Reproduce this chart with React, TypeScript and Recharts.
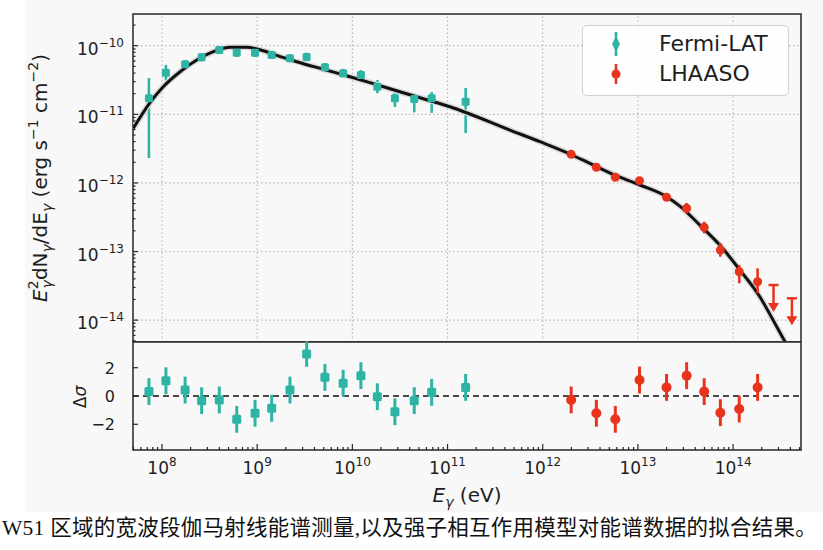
import React from 'react';
import {
  ComposedChart,
  Scatter,
  Line,
  XAxis,
  YAxis,
  ReferenceLine,
  ReferenceArea,
  ErrorBar,
} from 'recharts';

// energies in eV, fluxes as E^2 dN/dE in erg s^-1 cm^-2
const fermiE = [7.29e7, 1.1e8, 1.75e8, 2.61e8, 4.0e8, 6.1e8, 9.5e8, 1.42e9, 2.21e9, 3.31e9, 5.15e9, 8.0e9, 1.23e10, 1.83e10, 2.8e10, 4.47e10, 6.81e10, 1.55e11];
const fermiF = [1.71e-11, 4.04e-11, 5.36e-11, 6.78e-11, 8.65e-11, 7.91e-11, 7.91e-11, 7.31e-11, 6.55e-11, 6.84e-11, 4.84e-11, 3.96e-11, 3.74e-11, 2.52e-11, 1.71e-11, 1.67e-11, 1.71e-11, 1.53e-11];
const fermiLo = [2.31e-12, 3.05e-11, 4.67e-11, 5.9e-11, 7.55e-11, 6.9e-11, 6.9e-11, 6.4e-11, 5.7e-11, 5.95e-11, 4.2e-11, 3.4e-11, 3.2e-11, 2.04e-11, 1.28e-11, 1.07e-11, 1.05e-11, 5.33e-12];
const fermiHi = [3.38e-11, 5.24e-11, 6.15e-11, 7.8e-11, 9.9e-11, 9.1e-11, 9.1e-11, 8.4e-11, 7.5e-11, 7.9e-11, 5.6e-11, 4.6e-11, 4.4e-11, 3.16e-11, 2.04e-11, 2.04e-11, 2.11e-11, 2.42e-11];
const fermiRes = [0.31, 1.08, 0.42, -0.33, -0.28, -1.65, -1.22, -0.87, 0.42, 2.97, 1.32, 0.9, 1.44, -0.05, -1.11, -0.33, 0.26, 0.61];
const fermiResErr = [0.95, 0.95, 0.95, 0.95, 0.95, 0.95, 0.95, 0.95, 0.95, 0.9, 0.95, 0.95, 0.95, 0.95, 0.95, 0.95, 0.95, 0.95];

const lhaasoE = [1.99e12, 3.66e12, 5.79e12, 1.04e13, 2.0e13, 3.25e13, 4.97e13, 7.35e13, 1.16e14, 1.81e14];
const lhaasoF = [2.61e-12, 1.69e-12, 1.21e-12, 1.08e-12, 6.17e-13, 4.27e-13, 2.25e-13, 1.05e-13, 5.08e-14, 3.63e-14];
const lhaasoLo = [2.38e-12, 1.54e-12, 1.1e-12, 9.85e-13, 5.6e-13, 3.6e-13, 1.84e-13, 8.4e-14, 3.44e-14, 2.46e-14];
const lhaasoHi = [2.86e-12, 1.85e-12, 1.33e-12, 1.18e-12, 6.8e-13, 5.1e-13, 2.72e-13, 1.33e-13, 6.35e-14, 5.69e-14];
const lhaasoRes = [-0.28, -1.22, -1.65, 1.13, 0.61, 1.44, 0.31, -1.18, -0.92, 0.61];
const lhaasoResErr = [0.95, 0.95, 0.95, 0.95, 0.95, 0.95, 0.95, 0.95, 0.95, 0.95];

// LHAASO upper limits
const ulE = [2.66e14, 4.15e14];
const ulF = [3.25e-14, 2.08e-14];

// hadronic model curve
const modelE = [5.0e7, 7.48e7, 1.03e8, 1.55e8, 2.32e8, 3.46e8, 5.18e8, 7.76e8, 1.16e9, 1.75e9, 2.6e9, 5.15e9, 9.44e9, 1.73e10, 3.16e10, 5.79e10, 1.06e11, 4.52e11, 9.35e11, 1.93e12, 3.13e12, 5.73e12, 1.05e13, 2.0e13, 2.76e13, 4.48e13, 7.26e13, 1.18e14, 1.91e14, 2.75e14, 3.51e14];
const modelF = [6.25e-12, 1.48e-11, 2.52e-11, 4.18e-11, 6.19e-11, 8.18e-11, 9.48e-11, 9.48e-11, 8.45e-11, 6.92e-11, 5.85e-11, 4.47e-11, 3.53e-11, 2.75e-11, 2.13e-11, 1.66e-11, 1.29e-11, 5.9e-12, 3.99e-12, 2.64e-12, 1.93e-12, 1.3e-12, 9.33e-13, 6.3e-13, 4.6e-13, 2.43e-13, 1.24e-13, 5.37e-14, 2.19e-14, 8.97e-15, 4.84e-15];

const xDecades = [1e8, 1e9, 1e10, 1e11, 1e12, 1e13, 1e14];
const yDecades = [1e-14, 1e-13, 1e-12, 1e-11, 1e-10];
const resTicks = [-2, 0, 2];

const X_DOMAIN: [number, number] = [4.96e7, 5.17e14];
const Y_DOMAIN: [number, number] = [4.8e-15, 2.9e-10];
const RES_DOMAIN: [number, number] = [-3.82, 3.82];

const TEAL = '#2db4a4';
const RED = '#e8331d';
const INK = '#1e1e1e';
const FRAME = '#2b2320';
const FONT = '"DejaVu Sans", sans-serif';

const withMinors = (decades: number[], lo: number, hi: number) => {
  const out: number[] = [];
  decades.forEach((d) => {
    for (let m = 1; m < 10; m++) {
      const v = (d / 10) * m;
      if (v >= lo && v <= hi) out.push(v);
    }
  });
  const top = decades[decades.length - 1];
  for (let m = 1; m < 10; m++) if (top * m <= hi) out.push(top * m);
  return Array.from(new Set(out)).sort((a, b) => a - b);
};

const xTicks = withMinors(xDecades, X_DOMAIN[0], X_DOMAIN[1]);
const yTicks = withMinors(yDecades, Y_DOMAIN[0], Y_DOMAIN[1]);

const fermi = fermiE.map((e, i) => ({ e, f: fermiF[i], err: [fermiF[i] - fermiLo[i], fermiHi[i] - fermiF[i]] }));
const lhaaso = lhaasoE.map((e, i) => ({ e, f: lhaasoF[i], err: [lhaasoF[i] - lhaasoLo[i], lhaasoHi[i] - lhaasoF[i]] }));
const upper = ulE.map((e, i) => ({ e, f: ulF[i] }));
const model = modelE.map((e, i) => ({ e, f: modelF[i] }));
const fermiR = fermiE.map((e, i) => ({ e, r: fermiRes[i], err: fermiResErr[i] }));
const lhaasoR = lhaasoE.map((e, i) => ({ e, r: lhaasoRes[i], err: lhaasoResErr[i] }));

const isMajor = (v: number) => Math.abs(Math.log10(v) - Math.round(Math.log10(v))) < 1e-6;
const expText = (n: number) => (n < 0 ? '\u2212' + Math.abs(n) : String(n));

const makeXTick = (labels: boolean) => (props: any) => {
  const { x, y, payload } = props;
  const major = isMajor(payload.value);
  const exp = Math.round(Math.log10(payload.value));
  return (
    <g>
      <line x1={x} x2={x} y1={y} y2={y - (major ? 6 : 3)} stroke={FRAME} strokeWidth={1.2} />
      {labels && major && (
        <text x={x} y={y + 24} textAnchor="middle" fontSize={17} fill={INK} fontFamily={FONT}>
          10
          <tspan fontSize={12} dy={-8}>
            {expText(exp)}
          </tspan>
        </text>
      )}
    </g>
  );
};

const LogYTick = (props: any) => {
  const { x, y, payload } = props;
  const major = isMajor(payload.value);
  const exp = Math.round(Math.log10(payload.value));
  return (
    <g>
      <line x1={x} x2={x + (major ? 5 : 2.5)} y1={y} y2={y} stroke={FRAME} strokeWidth={1.2} />
      {major && (
        <text x={x - 9} y={y + 9} textAnchor="end" fontSize={17} fill={INK} fontFamily={FONT}>
          10
          <tspan fontSize={12} dy={-8}>
            {expText(exp)}
          </tspan>
        </text>
      )}
    </g>
  );
};

const ResTick = (props: any) => {
  const { x, y, payload } = props;
  return (
    <g>
      <line x1={x} x2={x + 5} y1={y} y2={y} stroke={FRAME} strokeWidth={1.2} />
      <text x={x - 18} y={y + 6} textAnchor="end" fontSize={16} fill={INK} fontFamily={FONT}>
        {expText(payload.value)}
      </text>
    </g>
  );
};

const square = (size: number) => (p: any) => (
  <rect x={p.cx - size / 2} y={p.cy - size / 2} width={size} height={size} rx={1.5} fill={TEAL} />
);
const dot = (r: number) => (p: any) => <circle cx={p.cx} cy={p.cy} r={r} fill={RED} />;
const upperLimit = (p: any) => (
  <g>
    <line x1={p.cx - 5} x2={p.cx + 5} y1={p.cy} y2={p.cy} stroke={RED} strokeWidth={2.5} />
    <line x1={p.cx} x2={p.cx} y1={p.cy} y2={p.cy + 20} stroke={RED} strokeWidth={2.5} />
    <path d={`M${p.cx - 5.5},${p.cy + 18} L${p.cx + 5.5},${p.cy + 18} L${p.cx},${p.cy + 27} Z`} fill={RED} />
  </g>
);

function LegendBox() {
  const row = { position: 'absolute' as const, left: 76, fontSize: 22, lineHeight: '24px' };
  return (
    <div
      style={{
        position: 'absolute',
        left: 582,
        top: 25,
        width: 205,
        height: 69,
        border: '1px solid #d0d0d0',
        borderRadius: 5,
        background: 'rgba(255,255,255,0.85)',
        fontFamily: FONT,
        color: INK,
      }}
    >
      <svg width={60} height={69} style={{ position: 'absolute', left: 0, top: 0 }}>
        <line x1={33} x2={33} y1={6} y2={30} stroke={TEAL} strokeWidth={2.6} />
        <path d="M33,10 L37,18 L33,26 L29,18 Z" fill={TEAL} />
        <line x1={33} x2={33} y1={38} y2={58} stroke={RED} strokeWidth={2.6} />
        <circle cx={33} cy={48} r={4.5} fill={RED} />
      </svg>
      <div style={{ ...row, top: 6 }}>Fermi-LAT</div>
      <div style={{ ...row, top: 36 }}>LHAASO</div>
    </div>
  );
}

export default function App() {
  return (
    <div style={{ position: 'absolute', left: 0, top: 0, width: 823, height: 550, background: '#fff', overflow: 'hidden' }}>
      <div style={{ position: 'absolute', left: 25, top: 0, width: 798, height: 512, background: '#f8f8f8' }} />

      <div style={{ position: 'absolute', left: 0, top: 0 }}>
        <ComposedChart width={823} height={342} margin={{ top: 14, right: 22, bottom: 0, left: 0 }}>
          <XAxis
            dataKey="e"
            type="number"
            scale="log"
            domain={X_DOMAIN}
            allowDataOverflow
            ticks={xTicks}
            interval={0}
            height={0}
            axisLine={false}
            tickLine={false}
            tickSize={0}
            tickMargin={0}
            tick={makeXTick(false)}
          />
          <YAxis
            dataKey="f"
            type="number"
            scale="log"
            domain={Y_DOMAIN}
            allowDataOverflow
            ticks={yTicks}
            interval={0}
            width={133}
            axisLine={false}
            tickLine={false}
            tickSize={0}
            tickMargin={0}
            tick={LogYTick}
          />
          {xDecades.map((v) => (
            <ReferenceLine key={'gx' + v} x={v} stroke="#b8b8b8" strokeDasharray="1.5 2.5" strokeWidth={1.2} />
          ))}
          {yDecades.map((v) => (
            <ReferenceLine key={'gy' + v} y={v} stroke="#b8b8b8" strokeDasharray="1.5 2.5" strokeWidth={1.2} />
          ))}
          <Scatter data={fermi} dataKey="f" fill={TEAL} shape={square(8)} isAnimationActive={false}>
            <ErrorBar dataKey="err" direction="y" width={0} stroke={TEAL} strokeWidth={2.6} />
          </Scatter>
          <Line data={model} dataKey="f" type="monotone" stroke="#dadada" strokeWidth={6} dot={false} isAnimationActive={false} />
          <Line data={model} dataKey="f" type="monotone" stroke="#111" strokeWidth={3} dot={false} isAnimationActive={false} />
          <Scatter data={lhaaso} dataKey="f" fill={RED} shape={dot(4.5)} isAnimationActive={false}>
            <ErrorBar dataKey="err" direction="y" width={0} stroke={RED} strokeWidth={2.6} />
          </Scatter>
          <Scatter data={upper} dataKey="f" fill={RED} shape={upperLimit} isAnimationActive={false} />
          <ReferenceArea
            x1={X_DOMAIN[0]}
            x2={X_DOMAIN[1]}
            y1={Y_DOMAIN[0]}
            y2={Y_DOMAIN[1]}
            fill="none"
            fillOpacity={0}
            stroke={FRAME}
            strokeWidth={1.5}
          />
        </ComposedChart>
      </div>

      <div style={{ position: 'absolute', left: 0, top: 330 }}>
        <ComposedChart width={823} height={180} margin={{ top: 12, right: 22, bottom: 0, left: 0 }}>
          <XAxis
            dataKey="e"
            type="number"
            scale="log"
            domain={X_DOMAIN}
            allowDataOverflow
            ticks={xTicks}
            interval={0}
            height={60}
            axisLine={false}
            tickLine={false}
            tickSize={0}
            tickMargin={0}
            tick={makeXTick(true)}
          />
          <YAxis
            dataKey="r"
            type="number"
            domain={RES_DOMAIN}
            allowDataOverflow
            ticks={resTicks}
            interval={0}
            width={133}
            axisLine={false}
            tickLine={false}
            tickSize={0}
            tickMargin={0}
            tick={ResTick}
          />
          <ReferenceLine y={0} stroke="#111" strokeDasharray="6 4" strokeWidth={1.5} />
          <Scatter data={fermiR} dataKey="r" fill={TEAL} shape={square(9)} isAnimationActive={false}>
            <ErrorBar dataKey="err" direction="y" width={0} stroke={TEAL} strokeWidth={3} />
          </Scatter>
          <Scatter data={lhaasoR} dataKey="r" fill={RED} shape={dot(5)} isAnimationActive={false}>
            <ErrorBar dataKey="err" direction="y" width={0} stroke={RED} strokeWidth={3} />
          </Scatter>
          <ReferenceArea
            x1={X_DOMAIN[0]}
            x2={X_DOMAIN[1]}
            y1={RES_DOMAIN[0]}
            y2={RES_DOMAIN[1]}
            fill="none"
            fillOpacity={0}
            stroke={FRAME}
            strokeWidth={1.5}
          />
        </ComposedChart>
      </div>

      <svg width={823} height={550} style={{ position: 'absolute', left: 0, top: 0, pointerEvents: 'none' }} fontFamily={FONT} fill={INK}>
        <text transform="translate(40,178) rotate(-90)" y={7} textAnchor="middle" fontSize={20}>
          <tspan fontStyle="italic">E</tspan>
          <tspan fontSize={14} dy={-9}>2</tspan>
          <tspan fontSize={14} fontStyle="italic" dx={-8} dy={14}>γ</tspan>
          <tspan dy={-5}>dN</tspan>
          <tspan fontSize={14} fontStyle="italic" dy={5}>γ</tspan>
          <tspan dy={-5}>/dE</tspan>
          <tspan fontSize={14} fontStyle="italic" dy={5}>γ</tspan>
          <tspan dy={-5}> (erg s</tspan>
          <tspan fontSize={14} dy={-9}>−1</tspan>
          <tspan dy={9}> cm</tspan>
          <tspan fontSize={14} dy={-9}>−2</tspan>
          <tspan dy={9}>)</tspan>
        </text>
        <text transform="translate(80,397) rotate(-90)" y={6} textAnchor="middle" fontSize={17}>
          Δ<tspan fontStyle="italic">σ</tspan>
        </text>
        <text x={467} y={502} textAnchor="middle" fontSize={20}>
          <tspan fontStyle="italic">E</tspan>
          <tspan fontSize={14} fontStyle="italic" dy={5}>γ</tspan>
          <tspan dy={-5}> (eV)</tspan>
        </text>
      </svg>

      <LegendBox />

      <div
        style={{
          position: 'absolute',
          left: 2,
          top: 514,
          fontSize: 21.5,
          lineHeight: '28px',
          whiteSpace: 'nowrap',
          letterSpacing: 0.25,
          color: '#111',
          fontFamily: '"Liberation Serif", "Noto Sans CJK SC", serif',
        }}
      >
        W51 区域的宽波段伽马射线能谱测量,以及强子相互作用模型对能谱数据的拟合结果。
      </div>
    </div>
  );
}
